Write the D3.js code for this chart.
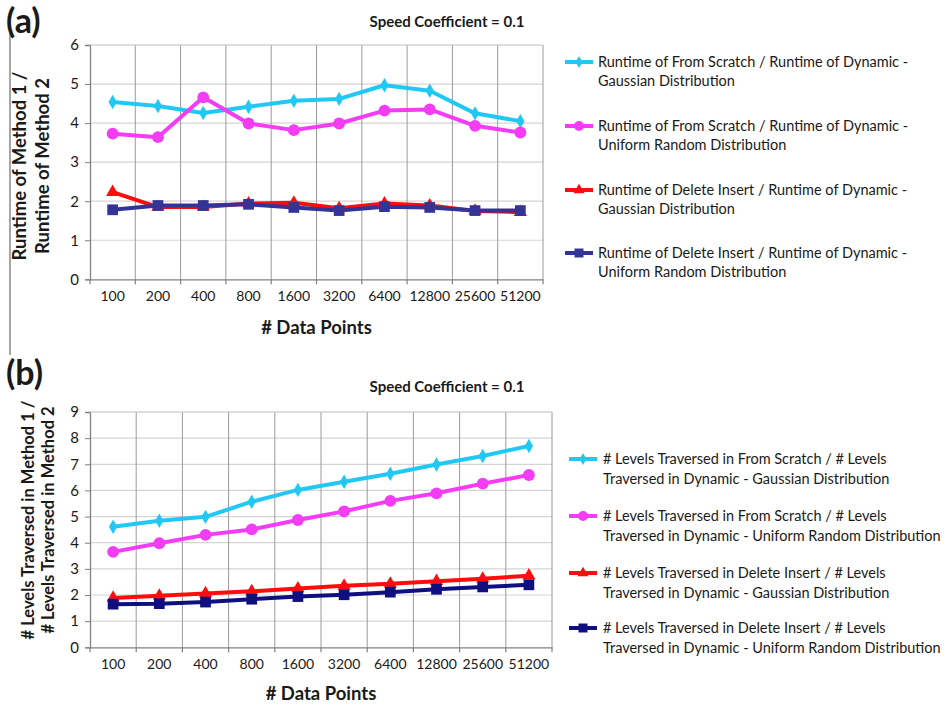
<!DOCTYPE html>
<html><head><meta charset="utf-8">
<script src="https://cdn.jsdelivr.net/npm/d3@7"></script>
<style>body{margin:0;background:#fff}svg{display:block}text{font-family:Lato,"Open Sans",sans-serif;fill:#1a1a1a}</style>
</head><body><svg id="c" width="952" height="704"></svg>
<script>
const categories = ["100","200","400","800","1600","3200","6400","12800","25600","51200"];

// Panel (a): runtime ratios
const runScratchGauss   = [4.54,4.44,4.26,4.42,4.57,4.62,4.97,4.83,4.25,4.05];
const runScratchUniform = [3.73,3.64,4.66,3.99,3.82,3.99,4.32,4.35,3.93,3.76];
const runDeleteGauss    = [2.23,1.85,1.85,1.94,1.96,1.82,1.94,1.89,1.75,1.72];
const runDeleteUniform  = [1.78,1.89,1.89,1.92,1.84,1.76,1.86,1.84,1.76,1.76];
const yTicksA = [0,1,2,3,4,5,6];

// Panel (b): levels traversed ratios
const lvlScratchGauss   = [4.61,4.84,4.99,5.57,6.02,6.33,6.64,6.99,7.32,7.70];
const lvlScratchUniform = [3.65,3.98,4.30,4.51,4.87,5.20,5.60,5.89,6.26,6.59];
const lvlDeleteGauss    = [1.89,1.97,2.06,2.14,2.25,2.35,2.43,2.53,2.62,2.74];
const lvlDeleteUniform  = [1.65,1.67,1.73,1.84,1.94,2.01,2.11,2.22,2.31,2.39];
const yTicksB = [0,1,2,3,4,5,6,7,8,9];

const legendA = [
  ["Runtime of From Scratch / Runtime of Dynamic -","Gaussian Distribution"],
  ["Runtime of From Scratch / Runtime of Dynamic -","Uniform Random Distribution"],
  ["Runtime of Delete Insert / Runtime of Dynamic -","Gaussian Distribution"],
  ["Runtime of Delete Insert / Runtime of Dynamic -","Uniform Random Distribution"]
];
const legendB = [
  ["# Levels Traversed in From Scratch / # Levels","Traversed in Dynamic - Gaussian Distribution"],
  ["# Levels Traversed in From Scratch / # Levels","Traversed in Dynamic - Uniform Random Distribution"],
  ["# Levels Traversed in Delete Insert / # Levels","Traversed in Dynamic - Gaussian Distribution"],
  ["# Levels Traversed in Delete Insert / # Levels","Traversed in Dynamic - Uniform Random Distribution"]
];
const titleText = "Speed Coefficient = 0.1";
const xTitle = "# Data Points";
const yTitleA = ["Runtime of Method 1 /","Runtime of Method 2"];
const yTitleB = ["# Levels Traversed in Method 1 /","# Levels Traversed in Method 2"];

const svg = d3.select("#c");

// decorative left border line of panel (a) frame
svg.append("line").attr("x1",10).attr("x2",10).attr("y1",33).attr("y2",355)
  .attr("stroke","#8a8a8a").attr("stroke-width",1.5);

function drawPanel(cfg){
  const g = svg.append("g");
  const x = d3.scaleBand().domain(categories).range([cfg.left,cfg.right]).padding(0);
  const y = d3.scaleLinear().domain([0,cfg.ymax]).range([cfg.bottom,cfg.top]);
  g.selectAll(".hg").data(cfg.yticks.filter(d=>d>0)).join("line")
    .attr("x1",cfg.left).attr("x2",cfg.right).attr("y1",d=>y(d)).attr("y2",d=>y(d))
    .attr("stroke","#d4d4d4").attr("stroke-width",1.2);
  g.selectAll(".vg").data(categories.slice(1)).join("line")
    .attr("x1",d=>x(d)).attr("x2",d=>x(d)).attr("y1",cfg.top).attr("y2",cfg.bottom)
    .attr("stroke","#9a9a9a").attr("stroke-width",1);
  g.append("line").attr("x1",cfg.right).attr("x2",cfg.right).attr("y1",cfg.top).attr("y2",cfg.bottom)
    .attr("stroke","#9a9a9a").attr("stroke-width",1);
  const xAxis = d3.axisBottom(x).tickSize(0).tickPadding(12);
  const gx = g.append("g").attr("transform",`translate(0,${cfg.bottom})`).call(xAxis);
  gx.select(".domain").attr("stroke","#808080").attr("stroke-width",1.3);
  gx.selectAll("text").style("font-size","14px").style("font-family","Lato").attr("fill","#1a1a1a");
  g.selectAll(".xt").data(categories.map(c=>x(c)).concat([cfg.right])).join("line")
    .attr("x1",d=>d).attr("x2",d=>d).attr("y1",cfg.bottom).attr("y2",cfg.bottom+5)
    .attr("stroke","#808080").attr("stroke-width",1.2);
  const yAxis = d3.axisLeft(y).tickValues(cfg.yticks).tickSize(5).tickPadding(6).tickFormat(d3.format("d"));
  const gy = g.append("g").attr("transform",`translate(${cfg.left},0)`).call(yAxis);
  gy.select(".domain").attr("stroke","#808080").attr("stroke-width",1.3);
  gy.selectAll("line").attr("stroke","#808080");
  gy.selectAll("text").style("font-size","15px").style("font-family","Lato").attr("fill","#1a1a1a");
  g.append("line").attr("x1",cfg.left).attr("x2",cfg.right).attr("y1",cfg.top).attr("y2",cfg.top)
    .attr("stroke","#d4d4d4").attr("stroke-width",1.2);

  cfg.series.forEach(s=>{
    const line = d3.line().x((d,i)=>x(categories[i])+x.bandwidth()/2).y(d=>y(d));
    g.append("path").attr("d",line(s.values)).attr("fill","none")
      .attr("stroke",s.color).attr("stroke-width",4).attr("stroke-linejoin","round");
  });
  cfg.series.forEach(s=>{
    g.selectAll(null).data(s.values).join("path")
      .attr("transform",(d,i)=>`translate(${x(categories[i])+x.bandwidth()/2},${y(d)})`)
      .attr("d",d3.symbol().type(s.symbol).size(s.size)).attr("fill",s.color);
  });

  g.append("text").attr("x",cfg.titleX).attr("y",cfg.titleY).attr("text-anchor","middle")
    .style("font-size","15px").style("font-weight","bold").text(titleText);
  g.append("text").attr("x",6).attr("y",cfg.letterY).style("font-size","34px").style("font-weight","bold").text(cfg.letter);
  g.append("text").attr("x",(cfg.left+cfg.right)/2).attr("y",cfg.xTitleY).attr("text-anchor","middle")
    .style("font-size","18.5px").style("font-weight","bold").text(xTitle);
  cfg.yTitle.forEach((t,i)=>{
    g.append("text").attr("transform",`translate(${cfg.yTitleX[i]},${cfg.yTitleCY}) rotate(-90)`)
      .attr("text-anchor","middle").attr("dy","0.35em")
      .style("font-size",cfg.yTitleSize).style("font-weight","bold").text(t);
  });
  cfg.series.forEach((s,i)=>{
    const ly = cfg.legY[i];
    g.append("line").attr("x1",cfg.legX).attr("x2",cfg.legX+28).attr("y1",ly).attr("y2",ly)
      .attr("stroke",s.color).attr("stroke-width",4);
    g.append("path").attr("transform",`translate(${cfg.legX+14},${ly})`)
      .attr("d",d3.symbol().type(s.symbol).size(s.size*0.7)).attr("fill",s.color);
    cfg.legend[i].forEach((t,j)=>{
      g.append("text").attr("x",cfg.legX+cfg.legTextDx).attr("y",ly+j*cfg.legLine).attr("dy","0.35em")
        .style("font-size","14.5px").text(t);
    });
  });
}

drawPanel({
  left:90,right:543,top:45,bottom:279.3,ymax:6,yticks:yTicksA,
  titleX:447,titleY:27,letter:"(a)",letterY:33,xTitleY:334,
  yTitle:yTitleA,yTitleX:[20,43],yTitleCY:166,yTitleSize:"18.5px",
  legX:565,legTextDx:33,legLine:18.5,legY:[62,126,190,253],legend:legendA,
  series:[
    {values:runScratchGauss,color:"#22c8f4",symbol:d3.symbolDiamond,size:60},
    {values:runScratchUniform,color:"#f43cf4",symbol:d3.symbolCircle,size:110},
    {values:runDeleteGauss,color:"#ff0d0d",symbol:d3.symbolTriangle,size:75},
    {values:runDeleteUniform,color:"#343497",symbol:d3.symbolSquare,size:115}
  ]
});
drawPanel({
  left:90,right:552,top:412,bottom:647.3,ymax:9,yticks:yTicksB,
  titleX:447,titleY:392,letter:"(b)",letterY:385,xTitleY:700,
  yTitle:yTitleB,yTitleX:[28,48],yTitleCY:520,yTitleSize:"16.5px",
  legX:569,legTextDx:34,legLine:20,legY:[459,516,573,628],legend:legendB,
  series:[
    {values:lvlScratchGauss,color:"#22c8f4",symbol:d3.symbolDiamond,size:60},
    {values:lvlScratchUniform,color:"#f43cf4",symbol:d3.symbolCircle,size:110},
    {values:lvlDeleteGauss,color:"#ff0d0d",symbol:d3.symbolTriangle,size:75},
    {values:lvlDeleteUniform,color:"#0f0f80",symbol:d3.symbolSquare,size:115}
  ]
});
</script></body></html>
